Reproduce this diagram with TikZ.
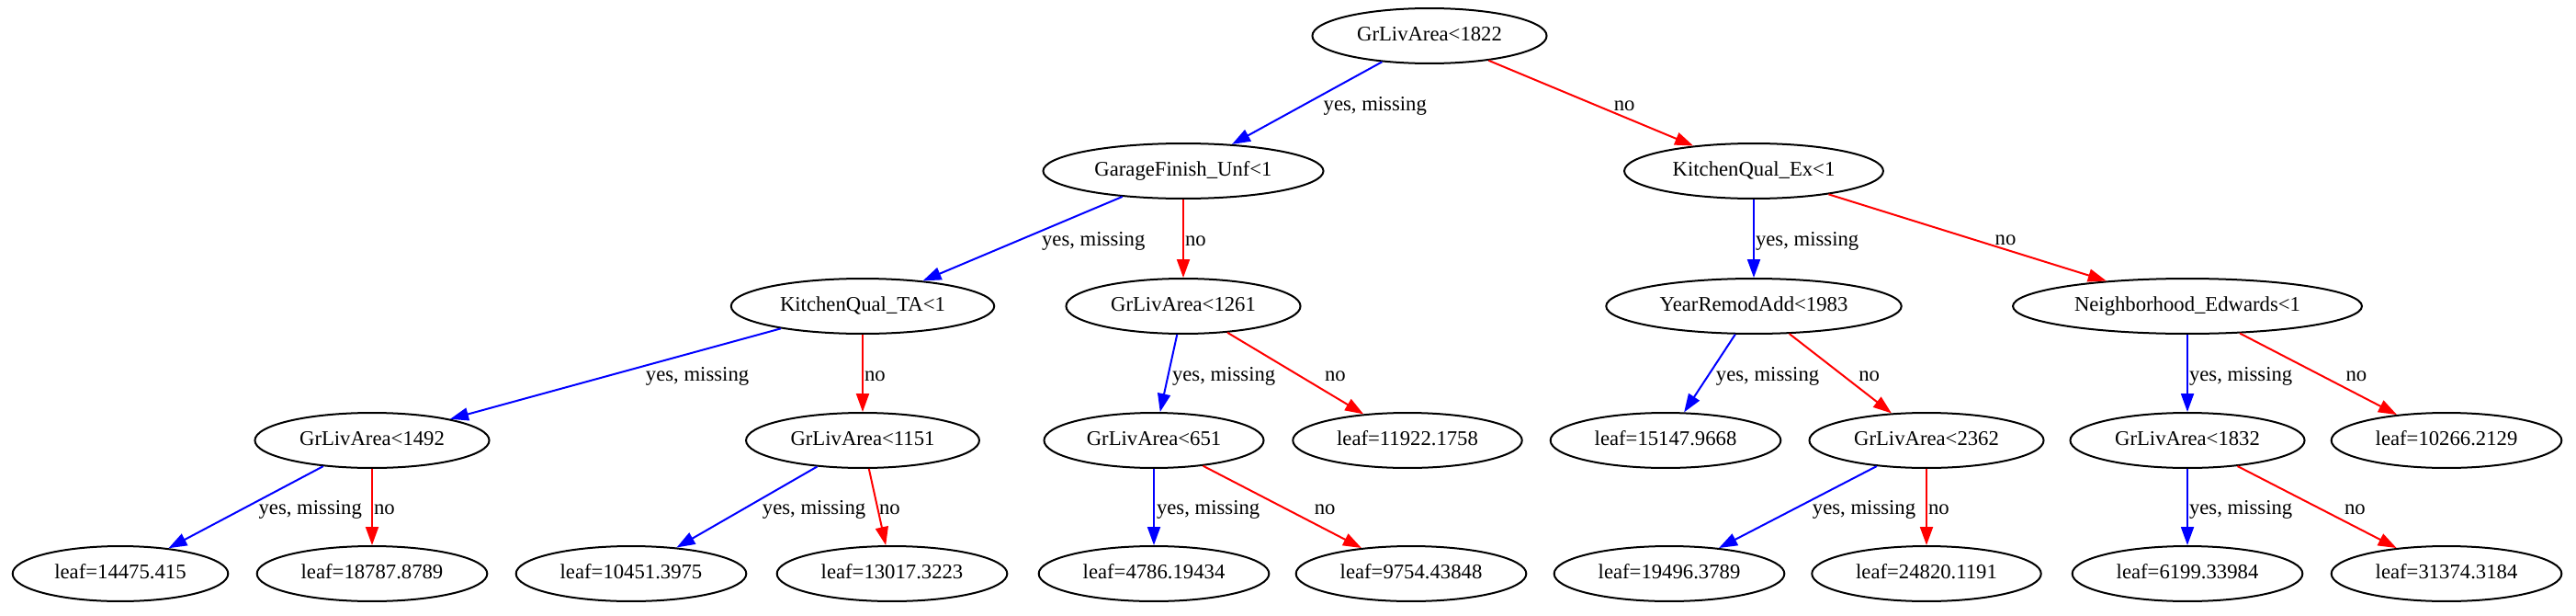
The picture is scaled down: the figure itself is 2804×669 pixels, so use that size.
\documentclass[tikz,border=0pt]{standalone}
\usepackage{fontspec}
\setmainfont{Liberation Serif}
\usetikzlibrary{arrows.meta, positioning, shapes.geometric}
\tikzset{%
	cond/.style={draw, ellipse, line width=2pt, inner xsep=11.3pt, inner ysep=10.4pt,%
		text height=15.9pt, text depth=5.7pt},
	leaf/.style={cond},
	yesarrow/.style={draw=blue, line width=2pt, -{Triangle[length=20pt, width=14pt]}},
	noarrow/.style={draw=red, line width=2pt, -{Triangle[length=20pt, width=14pt]}},
	lbl/.style={anchor=west, inner sep=0pt, yshift=-3pt, text height=15.9pt, text depth=5.7pt}
}

\begin{document}
\begin{tikzpicture}[x=1pt, y=-1pt, on grid, font=\fontsize{22.7pt}{27pt}\selectfont]
		\useasboundingbox (0,0) rectangle (2804,669);
		\node[cond] (root) at (1556,39) {GrLivArea<1822};
		\node[cond] (gf) [below left=147pt and 268pt of root] {GarageFinish\_Unf<1};
		\node[cond] (ke) [below right=147pt and 353pt of root] {KitchenQual\_Ex<1};
		\node[cond] (kta) [below left=147pt and 349pt of gf] {KitchenQual\_TA<1};
		\node[cond] (g1261) [below=147pt of gf] {GrLivArea<1261};
		\node[cond] (yr) [below=147pt of ke] {YearRemodAdd<1983};
		\node[cond] (ne) [below right=147pt and 472pt of ke] {Neighborhood\_Edwards<1};
		\node[cond] (g1492) [below left=146pt and 534pt of kta] {GrLivArea<1492};
		\node[cond] (g1151) [below=146pt of kta] {GrLivArea<1151};
		\node[cond] (g651) [below left=146pt and 32pt of g1261] {GrLivArea<651};
		\node[leaf] (l11922) [below right=146pt and 244pt of g1261] {leaf=11922.1758};
		\node[leaf] (l15147) [below left=146pt and 96pt of yr] {leaf=15147.9668};
		\node[cond] (g2362) [below right=146pt and 188pt of yr] {GrLivArea<2362};
		\node[cond] (g1832) [below=146pt of ne] {GrLivArea<1832};
		\node[leaf] (l10266) [below right=146pt and 282pt of ne] {leaf=10266.2129};
		\node[leaf] (l14475) [below left=145pt and 274pt of g1492] {leaf=14475.415};
		\node[leaf] (l18787) [below=145pt of g1492] {leaf=18787.8789};
		\node[leaf] (l10451) [below left=145pt and 252pt of g1151] {leaf=10451.3975};
		\node[leaf] (l13017) [below right=145pt and 32pt of g1151] {leaf=13017.3223};
		\node[leaf] (l4786) [below=145pt of g651] {leaf=4786.19434};
		\node[leaf] (l9754) [below right=145pt and 280pt of g651] {leaf=9754.43848};
		\node[leaf] (l19496) [below left=145pt and 280pt of g2362] {leaf=19496.3789};
		\node[leaf] (l24820) [below=145pt of g2362] {leaf=24820.1191};
		\node[leaf] (l6199) [below=145pt of g1832] {leaf=6199.33984};
		\node[leaf] (l31374) [below right=145pt and 282pt of g1832] {leaf=31374.3184};
		\draw [yesarrow] (root) to node[lbl, xshift=17pt]{yes, missing} (gf);
		\draw [noarrow] (root) to node[lbl, xshift=24pt]{no} (ke);
		\draw [yesarrow] (gf) to node[lbl, xshift=20pt]{yes, missing} (kta);
		\draw [noarrow] (gf) to node[lbl, xshift=1pt]{no} (g1261);
		\draw [yesarrow] (kta) to node[lbl, xshift=32pt]{yes, missing} (g1492);
		\draw [noarrow] (kta) to node[lbl, xshift=1pt]{no} (g1151);
		\draw [yesarrow] (g1261) to node[lbl, xshift=3pt]{yes, missing} (g651);
		\draw [noarrow] (g1261) to node[lbl, xshift=31pt]{no} (l11922);
		\draw [yesarrow] (ke) to node[lbl, xshift=1pt]{yes, missing} (yr);
		\draw [noarrow] (ke) to node[lbl, xshift=29pt]{no} (ne);
		\draw [yesarrow] (yr) to node[lbl, xshift=6pt]{yes, missing} (l15147);
		\draw [noarrow] (yr) to node[lbl, xshift=19pt]{no} (g2362);
		\draw [yesarrow] (ne) to node[lbl, xshift=1pt]{yes, missing} (g1832);
		\draw [noarrow] (ne) to node[lbl, xshift=29pt]{no} (l10266);
		\draw [yesarrow] (g1492) to node[lbl, xshift=13pt]{yes, missing} (l14475);
		\draw [noarrow] (g1492) to node[lbl, xshift=1pt]{no} (l18787);
		\draw [yesarrow] (g1151) to node[lbl, xshift=16pt]{yes, missing} (l10451);
		\draw [noarrow] (g1151) to node[lbl, xshift=1pt]{no} (l13017);
		\draw [yesarrow] (g651) to node[lbl, xshift=2pt]{yes, missing} (l4786);
		\draw [noarrow] (g651) to node[lbl, xshift=34pt]{no} (l9754);
		\draw [yesarrow] (g2362) to node[lbl, xshift=15pt]{yes, missing} (l19496);
		\draw [noarrow] (g2362) to node[lbl, xshift=1pt]{no} (l24820);
		\draw [yesarrow] (g1832) to node[lbl, xshift=1pt]{yes, missing} (l6199);
		\draw [noarrow] (g1832) to node[lbl, xshift=29pt]{no} (l31374);
\end{tikzpicture}
\end{document}
